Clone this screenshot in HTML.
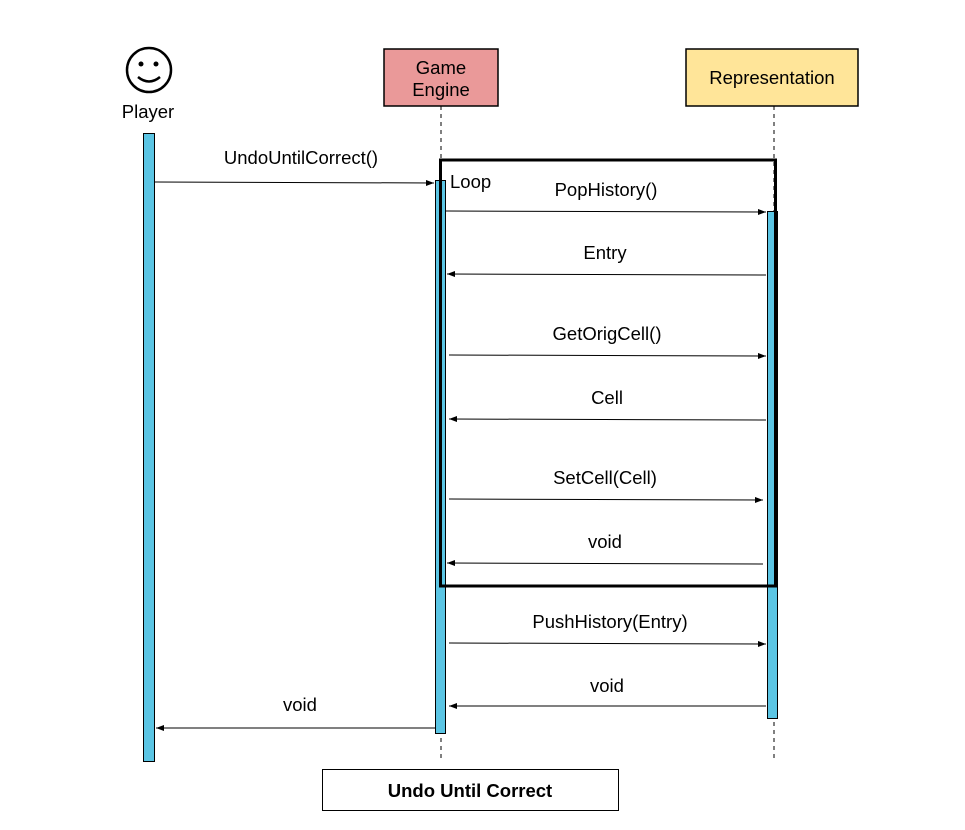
<!DOCTYPE html>
<html><head><style>body{margin:0;background:#fff}svg{display:block}text{font-family:"Liberation Sans",Arial,sans-serif;fill:#000}</style></head><body>
<svg width="965" height="830" viewBox="0 0 965 830">
<defs><marker id="a" markerWidth="8" markerHeight="6" refX="8" refY="3" orient="auto"><path d="M0,0L8,3L0,6z" fill="#000"/></marker></defs>
<rect width="965" height="830" fill="#fff"/>
<circle cx="149" cy="70" r="22" fill="none" stroke="#000" stroke-width="2.5"/>
<circle cx="141" cy="64" r="2.5"/><circle cx="156" cy="64" r="2.5"/>
<path d="M138,77 Q149,86 160,77" fill="none" stroke="#000" stroke-width="2.5"/>
<text x="148" y="118" font-size="18.5" text-anchor="middle">Player</text>
<rect x="384" y="49" width="114" height="57" fill="#ea9999" stroke="#000" stroke-width="1.5"/>
<text x="441" y="74" font-size="18.5" text-anchor="middle">Game</text>
<text x="441" y="96" font-size="18.5" text-anchor="middle">Engine</text>
<rect x="686" y="49" width="172" height="57" fill="#ffe599" stroke="#000" stroke-width="1.5"/>
<text x="772" y="84" font-size="18.5" text-anchor="middle">Representation</text>
<line x1="441" y1="106" x2="441" y2="760" stroke="#000" stroke-dasharray="4,4"/>
<line x1="774" y1="106" x2="774" y2="762" stroke="#000" stroke-dasharray="4,4"/>
<rect x="143.5" y="133.5" width="11" height="628" fill="#5bc5e4" stroke="#000"/>
<rect x="435.5" y="180.5" width="10" height="553" fill="#5bc5e4" stroke="#000"/>
<rect x="767.5" y="211.5" width="10" height="507" fill="#5bc5e4" stroke="#000"/>
<rect x="440.5" y="160" width="335" height="426" fill="none" stroke="#000" stroke-width="3"/>
<text x="450" y="188" font-size="18.5">Loop</text>
<g stroke="#000" stroke-width="1" marker-end="url(#a)">
<line x1="155" y1="182" x2="434" y2="183"/>
<line x1="446" y1="211" x2="766" y2="212"/>
<line x1="766" y1="275" x2="447" y2="274"/>
<line x1="449" y1="355" x2="766" y2="356"/>
<line x1="766" y1="420" x2="449" y2="419"/>
<line x1="449" y1="499" x2="763" y2="500"/>
<line x1="763" y1="564" x2="447" y2="563"/>
<line x1="449" y1="643" x2="766" y2="644"/>
<line x1="766" y1="706" x2="449" y2="706"/>
<line x1="435" y1="728" x2="156" y2="728"/>
</g>
<g font-size="18.5" text-anchor="middle">
<text x="301" y="164">UndoUntilCorrect()</text>
<text x="606" y="196">PopHistory()</text>
<text x="605" y="259">Entry</text>
<text x="607" y="340">GetOrigCell()</text>
<text x="607" y="404">Cell</text>
<text x="605" y="484">SetCell(Cell)</text>
<text x="605" y="548">void</text>
<text x="610" y="628">PushHistory(Entry)</text>
<text x="607" y="692">void</text>
<text x="300" y="711">void</text>
</g>
<rect x="322.5" y="769.5" width="296" height="41" fill="#fff" stroke="#000"/>
<text x="470" y="797" font-size="18.5" font-weight="bold" text-anchor="middle">Undo Until Correct</text>
</svg>
</body></html>
